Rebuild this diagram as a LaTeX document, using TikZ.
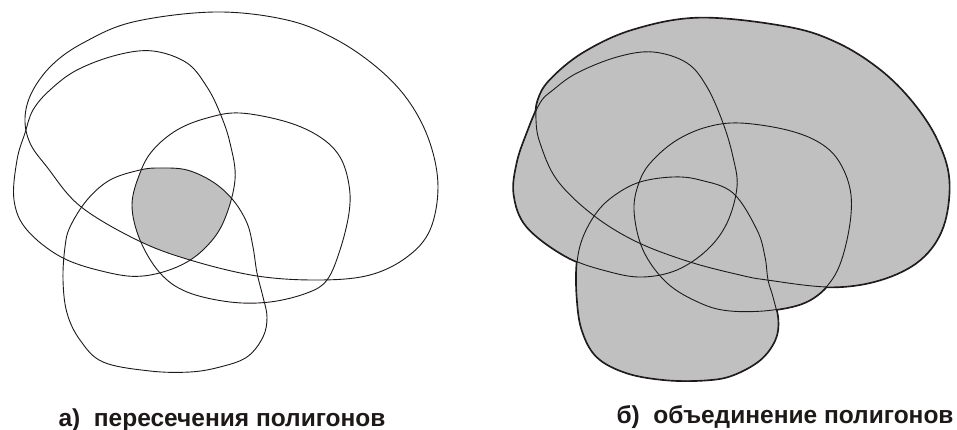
\documentclass[tikz,border=0pt]{standalone}
\usepackage{fontspec}
\setmainfont{Liberation Sans}
\definecolor{polyfill}{RGB}{192,192,192}
\definecolor{ink}{RGB}{30,25,25}
% left panel polygons
\newcommand\pA{plot[smooth cycle,tension=0.6] coordinates {(215,12) (287,20) (337,40) (380,70) (410,103) (430,143) (438,187) (430,230) (407,257) (370,275) (320,280) (257,276) (190,260) (137,240) (80,206) (47,167) (30,143) (25,118) (32,92) (52,65) (83,43) (133,22)}}
\newcommand\pB{plot[smooth cycle,tension=0.6] coordinates {(153,51) (187,63) (207,87) (220,113) (230,143) (235,180) (223,223) (203,250) (177,267) (143,276) (110,273) (63,258) (27,230) (14,200) (17,160) (25,133) (33,110) (50,90) (77,70) (117,55)}}
\newcommand\pC{plot[smooth cycle,tension=0.6] coordinates {(240,113) (287,122) (320,137) (340,157) (349,185) (349,213) (340,250) (327,280) (307,293) (270,302) (230,302) (187,292) (160,273) (140,240) (132,205) (140,173) (153,150) (177,130) (207,118)}}
\newcommand\pD{plot[smooth cycle,tension=0.6] coordinates {(160,168) (187,170) (213,182) (233,200) (247,223) (253,247) (257,273) (263,297) (267,317) (263,337) (247,357) (220,367) (190,372) (150,371) (103,362) (80,340) (67,313) (63,280) (65,247) (70,227) (87,200) (110,180) (140,170)}}
% right panel polygons
\newcommand\qA{plot[smooth cycle,tension=0.6] coordinates {(700,18) (787,27) (837,43) (880,70) (913,103) (937,140) (949,180) (943,227) (920,260) (880,280) (830,287) (767,280) (740,275) (690,262) (637,242) (593,215) (557,180) (540,143) (536,120) (538,100) (550,80) (583,53) (633,30)}}
\newcommand\qB{plot[smooth cycle,tension=0.6] coordinates {(653,52) (687,63) (707,87) (723,123) (733,157) (737,187) (727,223) (707,250) (677,270) (643,277) (610,272) (567,257) (527,227) (514,195) (517,163) (527,133) (540,103) (553,90) (577,73) (617,57)}}
\newcommand\qC{plot[smooth cycle,tension=0.6] coordinates {(740,123) (787,130) (820,143) (840,163) (851,195) (848,235) (835,275) (810,300) (773,310) (730,311) (700,303) (667,283) (643,250) (634,210) (640,180) (653,160) (677,140) (707,127)}}
\newcommand\qD{plot[smooth cycle,tension=0.6] coordinates {(673,177) (700,180) (733,193) (757,230) (765,257) (768,280) (773,297) (778,320) (775,340) (760,360) (733,375) (707,380) (667,380) (627,373) (597,357) (582,330) (577,297) (577,263) (583,237) (597,212) (615,195) (640,182)}}
\tikzset{
  outline/.style={draw=ink, line width=0.9pt},
  thickline/.style={draw=ink, line width=2.4pt},
  label/.style={font=\bfseries\fontsize{24.5}{28}\selectfont, text=ink, inner sep=0pt, anchor=base}
}
\begin{document}
\begin{tikzpicture}[x=1pt,y=-1pt]
\useasboundingbox (0,0) rectangle (957,430);
% ---------- left panel: intersection ----------
\begin{scope}
  \clip \pA; \clip \pB; \clip \pC;
  \fill[polyfill] \pD;
\end{scope}
\draw[outline] \pA;
\draw[outline] \pB;
\draw[outline] \pC;
\draw[outline] \pD;
\node[label] (la) at (222,426) {а)\ \ пересечения полигонов};
% ---------- right panel: union ----------
\draw[thickline] \qA;
\draw[thickline] \qB;
\draw[thickline] \qC;
\draw[thickline] \qD;
\fill[polyfill] \qA;
\fill[polyfill] \qB;
\fill[polyfill] \qC;
\fill[polyfill] \qD;
\draw[outline] \qA;
\draw[outline] \qB;
\draw[outline] \qC;
\draw[outline] \qD;
\node[label] (lb) at (785,423) {б)\ \ объединение полигонов};
\end{tikzpicture}
\end{document}
